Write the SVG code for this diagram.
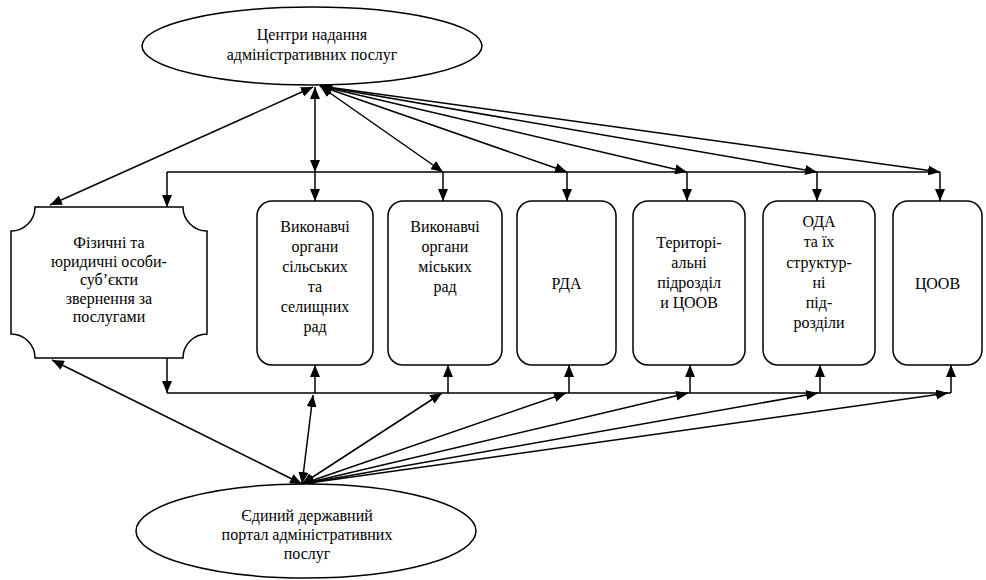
<svg xmlns="http://www.w3.org/2000/svg" width="986" height="580" viewBox="0 0 986 580">
<style>
.shape{fill:#fff;stroke:#000;stroke-width:1.5}
.ln{fill:none;stroke:#000;stroke-width:1.5}
.both{marker-start:url(#ah);marker-end:url(#ah)}
.end{marker-end:url(#ah)}
text{font-family:'Liberation Serif','Times New Roman',serif;font-size:16px;fill:#000;text-anchor:middle}
</style>
<defs>
<marker id="ah" viewBox="0 0 12 10" refX="12" refY="5" markerWidth="12" markerHeight="10" orient="auto-start-reverse" markerUnits="userSpaceOnUse">
<path d="M0,0 L12,5 L0,10 z" fill="#000"/>
</marker>
</defs>
<rect width="986" height="580" fill="#fff"/>
<g id="connectors">
<line class="ln both" x1="313" y1="87" x2="50" y2="205"/>
<line class="ln both" x1="315" y1="87" x2="315" y2="172"/>
<line class="ln both" x1="320" y1="86" x2="443" y2="172"/>
<line class="ln both" x1="320" y1="86" x2="567" y2="172"/>
<line class="ln both" x1="320" y1="86" x2="687" y2="172"/>
<line class="ln both" x1="320" y1="86" x2="817" y2="172"/>
<line class="ln both" x1="320" y1="86" x2="940" y2="172"/>
<line class="ln" x1="167" y1="172" x2="940" y2="172"/>
<line class="ln end" x1="167" y1="172" x2="167" y2="207"/>
<line class="ln end" x1="315" y1="172" x2="315" y2="201"/>
<line class="ln end" x1="443" y1="172" x2="443" y2="201"/>
<line class="ln end" x1="567" y1="172" x2="567" y2="201"/>
<line class="ln end" x1="687" y1="172" x2="687" y2="201"/>
<line class="ln end" x1="817" y1="172" x2="817" y2="201"/>
<line class="ln end" x1="940" y1="172" x2="940" y2="201"/>
<line class="ln end" x1="167" y1="358" x2="167" y2="393"/>
<line class="ln" x1="167" y1="393" x2="951" y2="393"/>
<line class="ln end" x1="315" y1="393" x2="315" y2="365"/>
<line class="ln end" x1="448" y1="393" x2="448" y2="365"/>
<line class="ln end" x1="569" y1="393" x2="569" y2="365"/>
<line class="ln end" x1="690" y1="393" x2="690" y2="365"/>
<line class="ln end" x1="820" y1="393" x2="820" y2="365"/>
<line class="ln end" x1="951" y1="393" x2="951" y2="365"/>
<line class="ln both" x1="302" y1="484" x2="52" y2="360"/>
<line class="ln both" x1="302" y1="484" x2="313" y2="395"/>
<line class="ln both" x1="302" y1="484" x2="442" y2="393"/>
<line class="ln both" x1="302" y1="484" x2="566" y2="393"/>
<line class="ln both" x1="302" y1="484" x2="688" y2="393"/>
<line class="ln both" x1="302" y1="484" x2="818" y2="393"/>
<line class="ln both" x1="302" y1="484" x2="948" y2="393"/>
</g>
<g id="centers">
<ellipse class="shape" cx="312" cy="46" rx="170" ry="39"/>
<text x="312" y="40">Центри надання</text>
<text x="312" y="60">адміністративних послуг</text>
</g>
<g id="applicants">
<path class="shape" d="M35,207 L183,207 A24,24 0 0 0 207,231 L207,334 A24,24 0 0 0 183,358 L35,358 A24,24 0 0 0 11,334 L11,231 A24,24 0 0 0 35,207 Z"/>
<text x="109" y="248">Фізичні та</text>
<text x="109" y="266.5">юридичні особи-</text>
<text x="109" y="285">суб’єкти</text>
<text x="109" y="303.5">звернення за</text>
<text x="109" y="322">послугами</text>
</g>
<g id="village">
<rect class="shape" x="257" y="201" width="116" height="164" rx="15"/>
<text x="315" y="232">Виконавчі</text>
<text x="315" y="252">органи</text>
<text x="315" y="272">сільських</text>
<text x="315" y="292">та</text>
<text x="315" y="312">селищних</text>
<text x="315" y="332">рад</text>
</g>
<g id="city">
<rect class="shape" x="388" y="201" width="114" height="164" rx="15"/>
<text x="445" y="232">Виконавчі</text>
<text x="445" y="252">органи</text>
<text x="445" y="272">міських</text>
<text x="445" y="292">рад</text>
</g>
<g id="rda">
<rect class="shape" x="517" y="201" width="99" height="164" rx="15"/>
<text x="566.5" y="289">РДА</text>
</g>
<g id="territorial">
<rect class="shape" x="633" y="201" width="112" height="164" rx="15"/>
<text x="689" y="248">Територі-</text>
<text x="689" y="268">альні</text>
<text x="689" y="288">підрозділ</text>
<text x="689" y="308">и ЦООВ</text>
</g>
<g id="oda">
<rect class="shape" x="763" y="201" width="112" height="164" rx="15"/>
<text x="819" y="227">ОДА</text>
<text x="819" y="247">та їх</text>
<text x="819" y="268">структур-</text>
<text x="819" y="288">ні</text>
<text x="819" y="308">під-</text>
<text x="819" y="328">розділи</text>
</g>
<g id="coov">
<rect class="shape" x="893" y="201" width="89" height="164" rx="15"/>
<text x="937.5" y="289">ЦООВ</text>
</g>
<g id="portal">
<ellipse class="shape" cx="306" cy="531" rx="170" ry="47"/>
<text x="307" y="521">Єдиний державний</text>
<text x="307" y="540">портал адміністративних</text>
<text x="307" y="559">послуг</text>
</g>
</svg>
